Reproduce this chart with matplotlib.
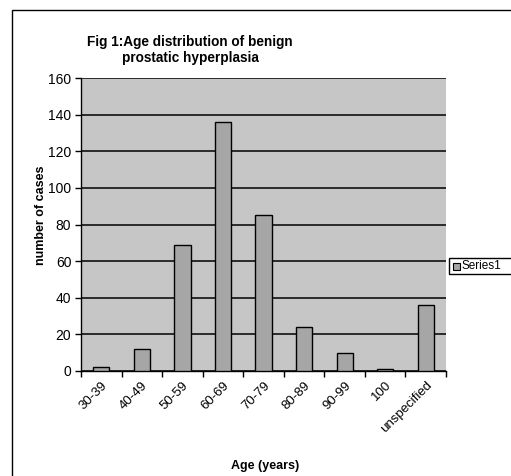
import matplotlib
matplotlib.use("Agg")
import matplotlib.pyplot as plt
import numpy as np
from matplotlib.patches import Rectangle

# data
age_groups = ["30-39", "40-49", "50-59", "60-69", "70-79", "80-89", "90-99", "100", "unspecified"]
cases = [2, 12, 69, 136, 85, 24, 10, 1, 36]
y_ticks = [0, 20, 40, 60, 80, 100, 120, 140, 160]

W, H = 511, 476
plt.rcParams["font.family"] = ["Liberation Sans", "DejaVu Sans"]

fig = plt.figure(figsize=(W / 100, H / 100), dpi=100)
fig.patch.set_facecolor("white")

# outer chart border (Excel chart area)
fig.add_artist(Rectangle((12 / W, -0.01), 1.0, 1 - 10 / H + 0.01, transform=fig.transFigure,
                         fill=False, edgecolor="black", lw=1.0))

ax = fig.add_axes([81 / W, 1 - 371 / H, (446 - 81) / W, (371 - 78) / H])
ax.set_facecolor("#c6c6c6")

x = np.arange(len(age_groups))
ax.bar(x, cases, width=0.4, color="#a6a6a6", edgecolor="black", linewidth=1.0,
       label="Series1", zorder=3)

ax.set_xlim(-0.5, len(age_groups) - 0.5)
ax.set_ylim(0, 160)
ax.set_yticks(y_ticks)
ax.yaxis.grid(True, color="black", lw=1.1, zorder=1)
ax.set_axisbelow(True)

# category ticks sit on the boundaries, labels centred under bars
ax.set_xticks(np.arange(-0.5, len(age_groups)), minor=False)
ax.set_xticklabels([])
ax.set_xticks(x, minor=True)
ax.set_xticklabels(age_groups, minor=True, rotation=45, ha="right", rotation_mode="anchor",
                   fontsize=9.5)
ax.tick_params(axis="x", which="minor", length=0, pad=6)
ax.tick_params(axis="x", which="major", direction="out", length=4, width=1)
ax.tick_params(axis="y", direction="out", length=4, width=1, labelsize=10, pad=3)

for s in ["top", "right"]:
    ax.spines[s].set_visible(False)
ax.spines["left"].set_linewidth(1.0)
ax.spines["bottom"].set_linewidth(1.0)

fig.text(190 / W, 1 - 35 / H, "Fig 1:Age distribution of benign\nprostatic hyperplasia",
         ha="center", va="top", fontsize=9.8, fontweight="bold", linespacing=1.2)
fig.text(41 / W, 1 - 215 / H, "number of cases", rotation=90, ha="center", va="center",
         fontsize=9, fontweight="bold")
fig.text(265 / W, 1 - 466 / H, "Age (years)", ha="center", va="center",
         fontsize=9, fontweight="bold")

# legend box, partly cut off at the right edge like the original
fig.add_artist(Rectangle((449 / W, 1 - 274 / H), 70 / W, 16 / H, transform=fig.transFigure,
                         facecolor="white", edgecolor="black", lw=1.0))
fig.add_artist(Rectangle((453 / W, 1 - 270 / H), 7 / W, 7 / H, transform=fig.transFigure,
                         facecolor="#a6a6a6", edgecolor="black", lw=0.8))
fig.text(462 / W, 1 - 266 / H, "Series1", ha="left", va="center", fontsize=8.5)

fig.savefig("out.png", dpi=100)
